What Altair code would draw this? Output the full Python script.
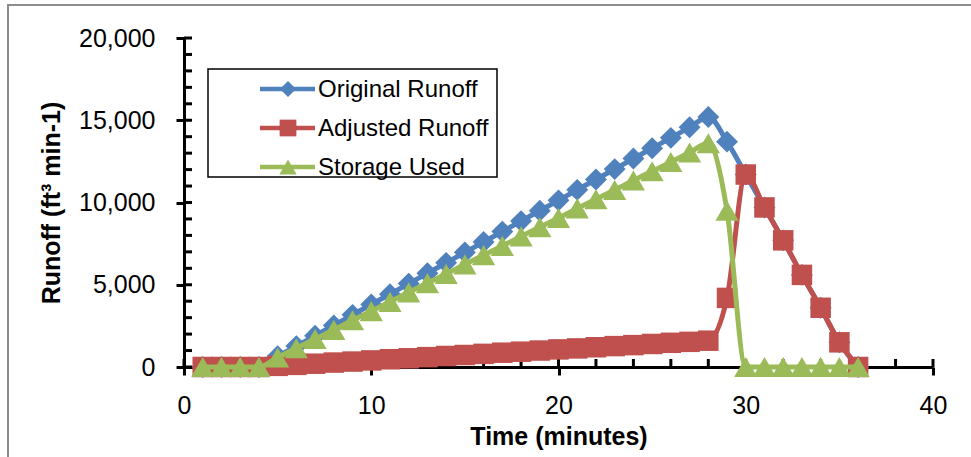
import altair as alt
import pandas as pd

# ---------------- data ----------------
time = list(range(1, 37))
original = [0, 0, 0, 0, 650, 1270, 1900, 2530, 3170, 3800, 4430, 5070, 5700, 6330,
            6970, 7600, 8230, 8870, 9500, 10130, 10770, 11400, 12030, 12670, 13300,
            13930, 14570, 15200, 13700, 11700, 9700, 7700, 5600, 3600, 1500, 0]
adjusted = [0, 0, 0, 0, 70, 130, 200, 270, 330, 400, 470, 530, 600, 670, 730, 800,
            870, 930, 1000, 1070, 1130, 1200, 1270, 1330, 1400, 1470, 1530, 1600,
            4200, 11700, 9700, 7700, 5600, 3600, 1500, 0]
storage = [0, 0, 0, 0, 580, 1140, 1700, 2260, 2840, 3400, 3960, 4540, 5100, 5660,
           6240, 6800, 7360, 7940, 8500, 9060, 9640, 10200, 10760, 11340, 11900,
           12460, 13040, 13600, 9500, 0, 0, 0, 0, 0, 0, 0]

series_names = ["Original Runoff", "Adjusted Runoff", "Storage Used"]
series_values = [original, adjusted, storage]
series_colors = ["#4F81BD", "#C0504D", "#9BBB59"]
series_shapes = ["diamond", "square", "triangle-up"]
series_sizes = [480, 420, 540]
legend_sizes = [260, 280, 300]

x_major = [0, 10, 20, 30, 40]
y_major = [0, 5000, 10000, 15000, 20000]
x_minor = list(range(0, 41, 2))
y_minor = list(range(0, 20001, 1000))

# ---------------- layout ----------------
W, H = 749, 329
FONT = "Liberation Sans"

xscale = alt.Scale(domain=[0, 40], nice=False, zero=False)
yscale = alt.Scale(domain=[0, 20000], nice=False)
xaxis = alt.Axis(values=x_major, title="Time (minutes)", grid=False,
                 labelExpr="format(datum.value, 'd')", labelFlush=False,
                 labelPadding=18, titlePadding=6)
yaxis = alt.Axis(values=y_major, title="Runoff (ft³ min-1)", grid=False,
                 labelExpr="format(datum.value, ',.0f')", labelFlush=False,
                 labelPadding=21, titlePadding=14)


def xenc(field):
    return alt.X(f"{field}:Q", scale=xscale, axis=xaxis)


def yenc(field):
    return alt.Y(f"{field}:Q", scale=yscale, axis=yaxis)


layers = []

# outer chart border
one = pd.DataFrame({"k": [0]})
layers.append(
    alt.Chart(one).mark_rect(fill="white", fillOpacity=0, stroke="#8c8c8c", strokeWidth=2)
    .encode(x=alt.value(-176), x2=alt.value(900), y=alt.value(-33), y2=alt.value(500))
)

# inward ticks
layers.append(
    alt.Chart(pd.DataFrame({"v": y_minor})).mark_rule(color="black", strokeWidth=3)
    .encode(y=yenc("v"), x=alt.value(0), x2=alt.value(8))
)
layers.append(
    alt.Chart(pd.DataFrame({"v": x_minor})).mark_rule(color="black", strokeWidth=3)
    .encode(x=xenc("v"), y=alt.value(H), y2=alt.value(H - 8))
)

for name, vals, col, shp, sz in zip(series_names, series_values, series_colors,
                                    series_shapes, series_sizes):
    df = pd.DataFrame({"time": time, "value": vals})
    base = alt.Chart(df).encode(x=xenc("time"), y=yenc("value"))
    layers.append(base.mark_line(color=col, strokeWidth=5, interpolate="monotone"))
    layers.append(base.mark_point(shape=shp, filled=True, size=sz, color=col, opacity=1))

# legend (custom, Excel style)
LX0, LX1, LY0, LY1 = 24, 313, 31, 139
rows_y = [51, 90, 129]
layers.append(
    alt.Chart(one).mark_rect(fill="white", stroke="black", strokeWidth=1.5)
    .encode(x=alt.value(LX0), x2=alt.value(LX1), y=alt.value(LY0), y2=alt.value(LY1))
)
for name, col, shp, sz, ry in zip(series_names, series_colors, series_shapes,
                                  legend_sizes, rows_y):
    layers.append(
        alt.Chart(one).mark_rule(color=col, strokeWidth=4.5)
        .encode(x=alt.value(76), x2=alt.value(131), y=alt.value(ry))
    )
    layers.append(
        alt.Chart(one).mark_point(shape=shp, filled=True, size=sz, color=col, opacity=1)
        .encode(x=alt.value(104), y=alt.value(ry))
    )
    layers.append(
        alt.Chart(one).mark_text(align="left", baseline="middle", font=FONT, fontSize=24,
                                 color="black", text=name)
        .encode(x=alt.value(134), y=alt.value(ry + 1))
    )

chart = alt.layer(*layers).properties(
    width=W, height=H,
    autosize=alt.AutoSizeParams(type="none"),
    padding={"left": 184, "top": 38, "right": 38, "bottom": 90},
    background="white",
).configure_view(stroke=None).configure_axis(
    domainColor="black", domainWidth=3, tickColor="black", tickWidth=3, tickSize=8,
    labelFont=FONT, labelFontSize=25, labelColor="black",
    titleFont=FONT, titleFontSize=25, titleFontWeight="bold", titleColor="black",
)

chart.save("out.html", embed_options={"renderer": "svg", "actions": False})
